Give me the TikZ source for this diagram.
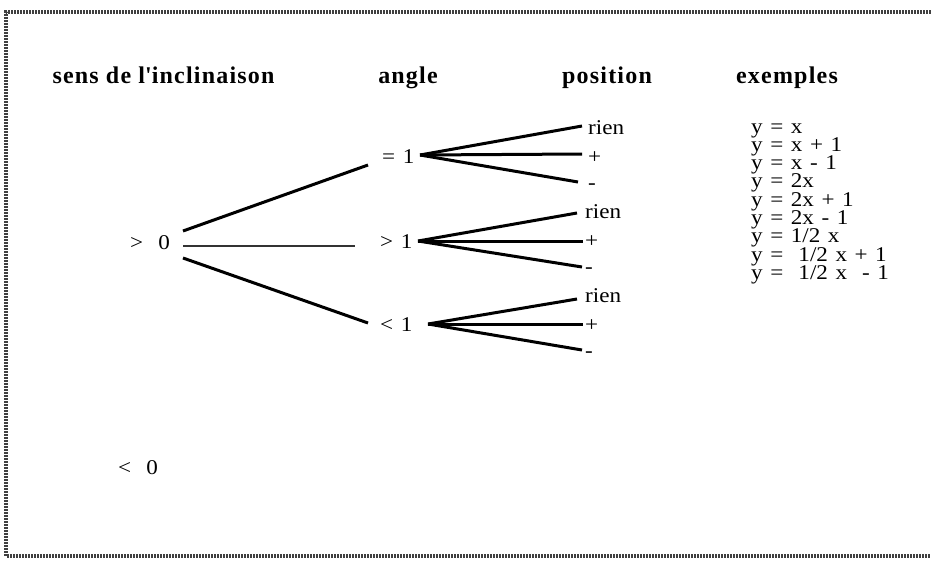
\documentclass[tikz,border=0pt]{standalone}
\usepackage{fontspec}
\setmainfont{Liberation Serif}
\newfontfamily\hdrfont[LetterSpace=5]{Liberation Serif Bold}
\newfontfamily\bodyfam[FakeStretch=1.1]{Liberation Serif}
\newcommand\bodyfnt{\fontsize{21}{18.3}\bodyfam\spaceskip=0.36em\relax\lineskiplimit=-100pt\relax}
\newcommand\headfnt{\fontsize{24}{24}\hdrfont}
\begin{document}
\begin{tikzpicture}[x=1pt,y=-1pt,
  txt/.style={inner sep=0pt, font=\bodyfnt, anchor=base west},
  hdr/.style={inner sep=0pt, font=\headfnt, anchor=base},
  br/.style={line width=3pt},
  mid/.style={line width=2.4pt, black!80},
  frame/.style={line width=3.2pt, black!75, dash pattern=on 2pt off 1pt}]
\useasboundingbox (0,0) rectangle (931,568);
\draw[frame] (931,12) -- (6,12) -- (6,556) -- (931,556);
% headers
\node[hdr] (h1) at (163.5,83) {sens de l\textquotesingle inclinaison};
\node[hdr] (h2) at (408,83) {angle};
\node[hdr] (h3) at (607,83) {position};
\node[hdr] (h4) at (787,83) {exemples};
% first level
\node[txt] (gt0) at (130,249) {>\ \ 0};
\node[txt] (lt0) at (118,474) {<\ \ 0};
\node[txt] (eq1) at (382,163) {= 1};
\node[txt] (gt1) at (380,248) {> 1};
\node[txt] (lt1) at (380,331) {< 1};
% position labels
\node[txt] (r1) at (588,134) {rien};
\node[txt] (p1) at (588,163) {+};
\node[txt] (m1) at (588,189) {-};
\node[txt] (r2) at (585,218) {rien};
\node[txt] (p2) at (585,247) {+};
\node[txt] (m2) at (585,273) {-};
\node[txt] (r3) at (585,302) {rien};
\node[txt] (p3) at (585,331) {+};
\node[txt] (m3) at (585,357) {-};
% examples
\node[txt, align=left] (ex) at (751,279.4) {y = x\\y = x + 1\\y = x - 1\\y = 2x\\y = 2x + 1\\y = 2x - 1\\y = 1/2 x\\y = \ 1/2 x + 1\\y = \ 1/2 x \ - 1};
% connector coordinates
\coordinate (a0) at (183,231);
\coordinate (b0) at (183,246);
\coordinate (c0) at (183,258);
\coordinate (a1) at (368,165);
\coordinate (b1) at (355,246);
\coordinate (c1) at (368,323);
\coordinate (o1) at (420,155);
\coordinate (o2) at (418,241);
\coordinate (o3) at (428,324);
\coordinate (r1e) at (582,126);
\coordinate (p1e) at (582,154);
\coordinate (m1e) at (578,182);
\coordinate (r2e) at (577,213);
\coordinate (p2e) at (583,241);
\coordinate (m2e) at (582,267);
\coordinate (r3e) at (577,299);
\coordinate (p3e) at (583,324);
\coordinate (m3e) at (582,350);
\draw[br] (a0) -- (a1);
\draw[mid] (b0) -- (b1);
\draw[br] (c0) -- (c1);
\draw[br] (o1) -- (r1e);
\draw[br] (o1) -- (p1e);
\draw[br] (o1) -- (m1e);
\draw[br] (o2) -- (r2e);
\draw[br] (o2) -- (p2e);
\draw[br] (o2) -- (m2e);
\draw[br] (o3) -- (r3e);
\draw[br] (o3) -- (p3e);
\draw[br] (o3) -- (m3e);
\end{tikzpicture}
\end{document}
